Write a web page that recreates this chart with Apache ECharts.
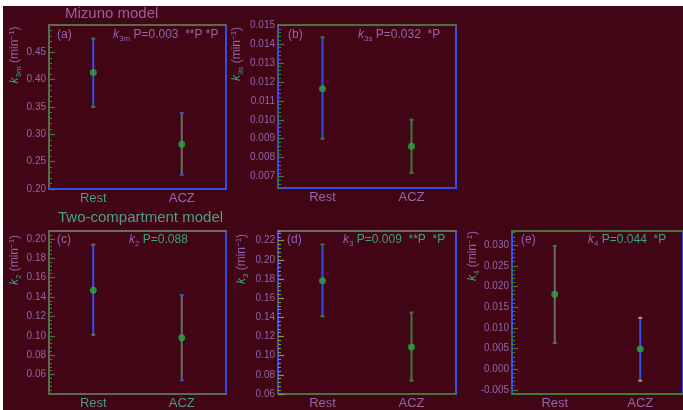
<!DOCTYPE html>
<html>
<head>
<meta charset="utf-8">
<script src="https://cdn.jsdelivr.net/npm/echarts@6/dist/echarts.min.js"></script>
<style>
  html, body { margin: 0; padding: 0; background: #ffffff; }
  #chart { position: absolute; left: 3px; top: 6px; width: 680px; height: 404px; }
</style>
</head>
<body>
<div id="chart"></div>
<script>
// Rate constants (min^-1): group means and error-bar limits
const categories = ['Rest', 'ACZ'];

const k3mMean = [0.413, 0.282];
const k3mLow  = [0.350, 0.226];
const k3mHigh = [0.475, 0.339];

const k3sMean = [0.01164, 0.0086];
const k3sLow  = [0.0090, 0.0072];
const k3sHigh = [0.01435, 0.0100];

const k2Mean = [0.147, 0.098];
const k2Low  = [0.101, 0.054];
const k2High = [0.194, 0.142];

const k3Mean = [0.178, 0.109];
const k3Low  = [0.141, 0.074];
const k3High = [0.216, 0.145];

const k4Mean = [0.0181, 0.0049];
const k4Low  = [0.0063, -0.0028];
const k4High = [0.0298, 0.0124];

// Labelled tick values per panel
const ticksA = [0.20, 0.25, 0.30, 0.35, 0.40, 0.45];
const ticksB = [0.007, 0.008, 0.009, 0.010, 0.011, 0.012, 0.013, 0.014, 0.015];
const ticksC = [0.06, 0.08, 0.10, 0.12, 0.14, 0.16, 0.18, 0.20];
const ticksD = [0.06, 0.08, 0.10, 0.12, 0.14, 0.16, 0.18, 0.20, 0.22];
const ticksE = [-0.005, 0.000, 0.005, 0.010, 0.015, 0.020, 0.025, 0.030];

const BG = '#410515';
const BLUE = '#2f4fe6';
const GREY = '#6a6d5e';
const OLIVE = '#5b6b4b';
const GREEN = '#3f7a36';
const DOT = '#2ea640';
const PURPLE = '#9266ac';
const TEAL = '#3f9e88';

const panels = [
  { grid: { left: 46, top: 19, width: 177, height: 164 },
    mean: k3mMean, low: k3mLow, high: k3mHigh,
    min: 0.20, max: 0.50, minor: 0.01, ticks: ticksA, dec: 2,
    border: { left: OLIVE, top: OLIVE, right: BLUE, bottom: BLUE },
    bars: [ { line: BLUE, cap: GREEN }, { line: GREY, cap: BLUE } ],
    catColors: [TEAL, PURPLE], tickColor: GREEN },
  { grid: { left: 275, top: 19, width: 178, height: 163 },
    mean: k3sMean, low: k3sLow, high: k3sHigh,
    min: 0.0064, max: 0.015, minor: 0.0002, ticks: ticksB, dec: 3,
    border: { left: BLUE, top: '#4d7040', right: BLUE, bottom: BLUE },
    bars: [ { line: BLUE, cap: GREEN }, { line: GREEN, cap: GREEN } ],
    catColors: [PURPLE, PURPLE], tickColor: GREEN },
  { grid: { left: 46, top: 225, width: 177, height: 164 },
    mean: k2Mean, low: k2Low, high: k2High,
    min: 0.04, max: 0.208, minor: 0.004, ticks: ticksC, dec: 2,
    border: { left: OLIVE, top: GREY, right: BLUE, bottom: OLIVE },
    bars: [ { line: BLUE, cap: GREY }, { line: GREY, cap: BLUE } ],
    catColors: [TEAL, TEAL], tickColor: GREEN },
  { grid: { left: 275, top: 225, width: 178, height: 163 },
    mean: k3Mean, low: k3Low, high: k3High,
    min: 0.06, max: 0.23, minor: 0.004, ticks: ticksD, dec: 2,
    border: { left: BLUE, top: GREY, right: BLUE, bottom: '#4d7040' },
    bars: [ { line: BLUE, cap: GREEN }, { line: GREEN, cap: GREEN } ],
    catColors: [PURPLE, PURPLE], tickColor: '#8a9a40' },
  { grid: { left: 509, top: 225, width: 177, height: 163 },
    mean: k4Mean, low: k4Low, high: k4High,
    min: -0.006, max: 0.0334, minor: 0.001, ticks: ticksE, dec: 3,
    border: { left: BLUE, top: '#4d7040', right: BLUE, bottom: GREEN },
    bars: [ { line: GREY, cap: GREEN }, { line: BLUE, cap: '#b0a040' } ],
    catColors: [PURPLE, PURPLE], tickColor: GREEN }
];

const grid = [], xAxis = [], yAxis = [], series = [];

panels.forEach((p, i) => {
  grid.push(Object.assign({ containLabel: false }, p.grid));

  // bottom axis with category labels, plus a bare top edge
  xAxis.push({
    gridIndex: i, type: 'category', data: categories, position: 'bottom',
    axisLine: { onZero: false, lineStyle: { color: p.border.bottom, width: 2 } },
    axisTick: { show: false },
    axisLabel: {
      margin: 3, fontSize: 13, fontFamily: 'Liberation Sans, Arial, sans-serif',
      color: (v, idx) => p.catColors[idx]
    },
    splitLine: { show: false }
  });
  xAxis.push({
    gridIndex: i, type: 'category', data: categories, position: 'top',
    axisLine: { onZero: false, lineStyle: { color: p.border.top, width: 2 } },
    axisTick: { show: false }, axisLabel: { show: false }, splitLine: { show: false }
  });

  // fine ticks on the left edge
  yAxis.push({
    gridIndex: i, type: 'value', position: 'left', min: p.min, max: p.max, interval: p.minor,
    axisLine: { show: true, onZero: false, lineStyle: { color: p.border.left, width: 2 } },
    axisTick: { show: true, inside: true, length: 3, lineStyle: { color: p.tickColor } },
    axisLabel: { show: false }, splitLine: { show: false }
  });
  // labelled ticks on the left edge
  yAxis.push({
    gridIndex: i, type: 'value', position: 'left', min: p.min, max: p.max, interval: p.minor,
    axisLine: { show: false, onZero: false },
    axisTick: { show: true, inside: true, length: 6, customValues: p.ticks,
                lineStyle: { color: p.tickColor, width: 1.2 } },
    axisLabel: {
      show: true, customValues: p.ticks, margin: 3, fontSize: 10,
      fontFamily: 'Liberation Sans, Arial, sans-serif', color: PURPLE,
      formatter: v => v.toFixed(p.dec)
    },
    splitLine: { show: false }
  });
  // right edge
  yAxis.push({
    gridIndex: i, type: 'value', position: 'right', min: p.min, max: p.max,
    axisLine: { show: true, onZero: false, lineStyle: { color: p.border.right, width: 2 } },
    axisTick: { show: false }, axisLabel: { show: false }, splitLine: { show: false }
  });

  // error bars
  series.push({
    type: 'custom',
    xAxisIndex: 2 * i, yAxisIndex: 3 * i,
    data: categories.map((c, j) => [j, p.low[j], p.high[j]]),
    encode: { x: 0, y: [1, 2] },
    silent: true,
    renderItem: (params, api) => {
      const bar = p.bars[params.dataIndex];
      const lo = api.coord([api.value(0), api.value(1)]);
      const hi = api.coord([api.value(0), api.value(2)]);
      const hw = 2;
      return {
        type: 'group',
        children: [
          { type: 'line', shape: { x1: lo[0], y1: lo[1], x2: hi[0], y2: hi[1] },
            style: { stroke: bar.line, lineWidth: 2 } },
          { type: 'line', shape: { x1: hi[0] - hw, y1: hi[1], x2: hi[0] + hw, y2: hi[1] },
            style: { stroke: bar.cap, lineWidth: 2 } },
          { type: 'line', shape: { x1: lo[0] - hw, y1: lo[1], x2: lo[0] + hw, y2: lo[1] },
            style: { stroke: bar.cap, lineWidth: 2 } }
        ]
      };
    }
  });
  // group means
  series.push({
    type: 'scatter',
    xAxisIndex: 2 * i, yAxisIndex: 3 * i,
    data: p.mean,
    symbol: 'circle', symbolSize: 7,
    itemStyle: { color: DOT },
    silent: true, z: 5
  });
});

const FONT = 'Liberation Sans, Arial, sans-serif';
const rich = {
  k: { fontStyle: 'italic', fontSize: 12, fontFamily: FONT, fill: PURPLE },
  s: { fontSize: 8, fontFamily: FONT, fill: PURPLE, padding: [8, 0, 0, 0] },
  p: { fontSize: 12, fontFamily: FONT, fill: PURPLE },
  t: { fontSize: 12, fontFamily: FONT, fill: TEAL }
};
const richName = {
  k: { fontStyle: 'italic', fontSize: 12, fontFamily: FONT, fill: TEAL },
  s: { fontSize: 8, fontFamily: FONT, fill: TEAL, padding: [7, 0, 0, 0] },
  u: { fontSize: 12, fontFamily: FONT, fill: PURPLE },
  e: { fontSize: 8, fontFamily: FONT, fill: PURPLE, padding: [0, 0, 7, 0] }
};

function txt(x, y, text, extra) {
  return {
    type: 'text', x: x, y: y, silent: true,
    style: Object.assign({ text: text, fill: PURPLE, font: '12px ' + FONT,
                           verticalAlign: 'middle', align: 'left', rich: rich }, extra || {})
  };
}
function yName(x, y, sub) {
  return {
    type: 'text', x: x, y: y, rotation: Math.PI / 2, silent: true,
    style: {
      text: '{k|k}{s|' + sub + '} {u|(min}{e|−1}{u|)}',
      rich: richName, align: 'center', verticalAlign: 'middle'
    }
  };
}

const graphic = [
  txt(62, 8, 'Mizuno model', { font: '15px ' + FONT, fill: '#a25aa8' }),
  txt(55, 212, 'Two-compartment model', { font: '15px ' + FONT, fill: '#4aa086' }),

  yName(12, 49, '3m'),
  yName(234, 48, '3s'),
  yName(12, 254, '2'),
  yName(239, 253, '3'),
  yName(470, 250, '4'),

  txt(54, 29, '(a)', { font: '12px ' + FONT }),
  txt(110, 29, '{k|k}{s|3m} {p|P=0.003  **P *P}'),
  txt(285, 29, '(b)', { font: '12px ' + FONT }),
  txt(355, 29, '{k|k}{s|3s} {p|P=0.032  *P}'),
  txt(54, 234, '(c)', { font: '12px ' + FONT }),
  txt(126, 234, '{k|k}{s|2} {t|P=0.088}'),
  txt(284, 234, '(d)', { font: '12px ' + FONT }),
  txt(340, 234, '{k|k}{s|3} {t|P=0.009  **P  *P}'),
  txt(518, 234, '(e)', { font: '12px ' + FONT }),
  txt(585, 234, '{k|k}{s|4} {t|P=0.044  *P}')
];

const chart = echarts.init(document.getElementById('chart'), null, { renderer: 'canvas' });
chart.setOption({
  backgroundColor: BG,
  animation: false,
  grid: grid,
  xAxis: xAxis,
  yAxis: yAxis,
  series: series,
  graphic: graphic
});
</script>
</body>
</html>
